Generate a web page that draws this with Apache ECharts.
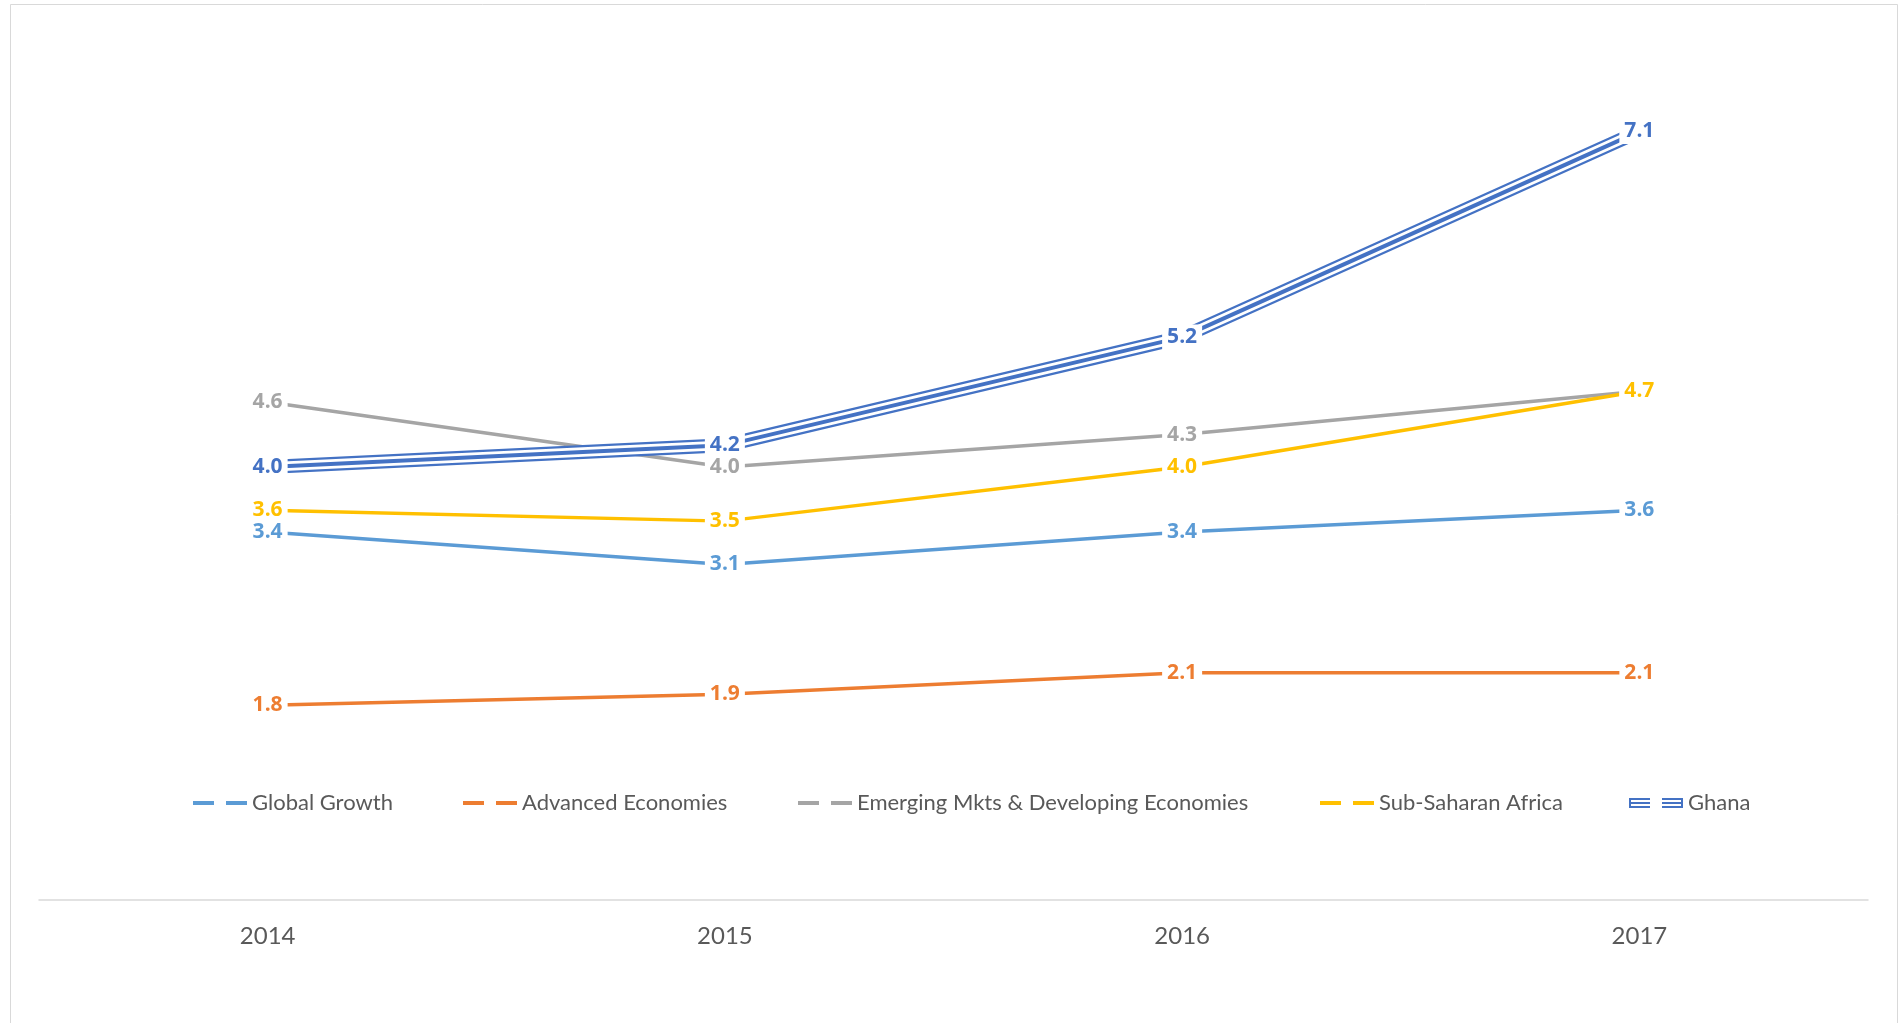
<!DOCTYPE html>
<html>
<head>
<meta charset="utf-8">
<script src="https://cdn.jsdelivr.net/npm/echarts@6/dist/echarts.min.js"></script>
<style>
html,body{margin:0;padding:0;background:#fff;}
#chart{width:1900px;height:1023px;}
</style>
</head>
<body>
<div id="chart"></div>
<script>
var years = ['2014', '2015', '2016', '2017'];
var globalGrowth = [3.4, 3.1, 3.4, 3.6];
var advancedEconomies = [1.8, 1.9, 2.1, 2.1];
var emergingMkts = [4.6, 4.0, 4.3, 4.7];
var subSaharanAfrica = [3.6, 3.5, 4.0, 4.7];
var ghana = [4.0, 4.2, 5.2, 7.1];

var names = ['Global Growth', 'Advanced Economies', 'Emerging Mkts & Developing Economies', 'Sub-Saharan Africa', 'Ghana'];
var colors = ['#5B9BD5', '#ED7D31', '#A5A5A5', '#FFC000', '#4472C4'];
var FONT = 'Lato';
var LABEL_FONT = 'Open Sans';

function labelCfg(color) {
  return {
    show: true,
    position: 'inside',
    formatter: function (p) { return p.value.toFixed(1); },
    color: color,
    fontFamily: LABEL_FONT,
    fontWeight: 700,
    fontSize: 21,
    backgroundColor: '#ffffff',
    padding: [4, 5, 0, 5]
  };
}

function lineSeries(name, data, color, width, withLabel, lineColor) {
  return {
    name: name,
    type: 'line',
    data: data,
    symbol: 'circle',
    symbolSize: 1,
    showSymbol: true,
    itemStyle: { color: color },
    lineStyle: { color: lineColor || color, width: width },
    label: withLabel ? labelCfg(color) : { show: false },
    emphasis: { disabled: true },
    silent: true
  };
}

var dashIcon = 'path://M0,0h21v4h-21z M33,0h21v4h-21z';
var ghanaIcon = 'path://M0,0h21v2h-21z M0,4h21v2h-21z M0,8h21v2h-21z M0,0h2v10h-2z M33,0h21v2h-21z M33,4h21v2h-21z M33,8h21v2h-21z M52,0h2v10h-2z';

var legendLefts = [193, 463, 798, 1320, 1629];
var legends = names.map(function (n, i) {
  var isGhana = i === 4;
  return {
    left: legendLefts[i],
    top: 792,
    padding: 0,
    itemWidth: 54,
    itemHeight: isGhana ? 10 : 4,
    itemGap: 0,
    symbolKeepAspect: false,
    selectedMode: false,
    data: [{ name: n, icon: isGhana ? ghanaIcon : dashIcon }],
    textStyle: { color: '#595959', fontFamily: FONT, fontSize: 22, padding: [0, 0, 0, 0] }
  };
});

var option = {
  animation: false,
  backgroundColor: '#ffffff',
  graphic: [{
    type: 'rect',
    shape: { x: 10.5, y: 4.5, width: 1887, height: 1100 },
    style: { fill: 'none', stroke: '#d9d9d9', lineWidth: 1 },
    silent: true
  }],
  legend: legends,
  grid: { left: 39, right: 32, top: 34, bottom: 123 },
  xAxis: {
    type: 'category',
    data: years,
    boundaryGap: true,
    axisLine: { show: true, lineStyle: { color: '#d9d9d9', width: 1.5 } },
    axisTick: { show: false },
    axisLabel: { color: '#595959', fontFamily: FONT, fontSize: 24, margin: 24 },
    splitLine: { show: false }
  },
  yAxis: {
    type: 'value',
    min: 0,
    max: 8,
    interval: 1,
    show: false,
    splitLine: { show: false }
  },
  series: [
    lineSeries(names[0], globalGrowth, colors[0], 3.5, true),
    lineSeries(names[1], advancedEconomies, colors[1], 3.5, true),
    lineSeries(names[2], emergingMkts, colors[2], 3.5, true),
    lineSeries(names[3], subSaharanAfrica, colors[3], 3.5, true),
    lineSeries(names[4], ghana, colors[4], 14, false),
    lineSeries(names[4], ghana, colors[4], 9.5, false, '#ffffff'),
    lineSeries(names[4], ghana, colors[4], 4, true)
  ]
};

var chart = echarts.init(document.getElementById('chart'), null, { renderer: 'canvas' });
chart.setOption(option);
</script>
</body>
</html>
